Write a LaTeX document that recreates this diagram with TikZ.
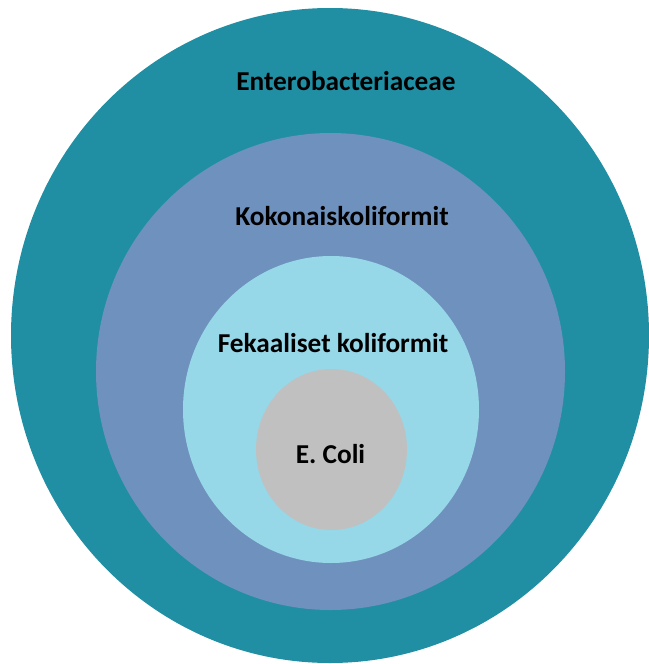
\documentclass[tikz,border=0pt]{standalone}
\usepackage{fontspec}
\setmainfont{Carlito}
\usetikzlibrary{shapes.geometric}
\definecolor{cteal}{RGB}{32,142,163}
\definecolor{cslate}{RGB}{111,145,189}
\definecolor{clight}{RGB}{150,215,232}
\definecolor{cgray}{RGB}{192,192,192}
\tikzset{
  ring/.style={ellipse, inner sep=0pt, draw=none},
  lbl/.style={anchor=base, inner sep=0pt, font=\fontsize{27.3}{31}\selectfont\bfseries, text=black}
}
\begin{document}
\begin{tikzpicture}[x=1pt,y=-1pt]
\useasboundingbox (0,0) rectangle (648,664);
\node[ring, fill=cteal, minimum width=638pt, minimum height=655pt] (outer) at (330,335.5) {};
\node[ring, fill=cslate, minimum width=469pt, minimum height=477pt] (total) at (330.5,371.5) {};
\node[ring, fill=clight, minimum width=296pt, minimum height=307pt] (fecal) at (331,409.5) {};
\node[ring, fill=cgray, minimum width=151pt, minimum height=161pt] (ecoli) at (331.5,449.5) {};
\node[lbl] (t1) at (346,90) {Enterobacteriaceae};
\node[lbl] (t2) at (342,225) {Kokonaiskoliformit};
\node[lbl] (t3) at (333,352) {Fekaaliset koliformit};
\node[lbl] (t4) at (330.5,463) {E. Coli};
\end{tikzpicture}
\end{document}
